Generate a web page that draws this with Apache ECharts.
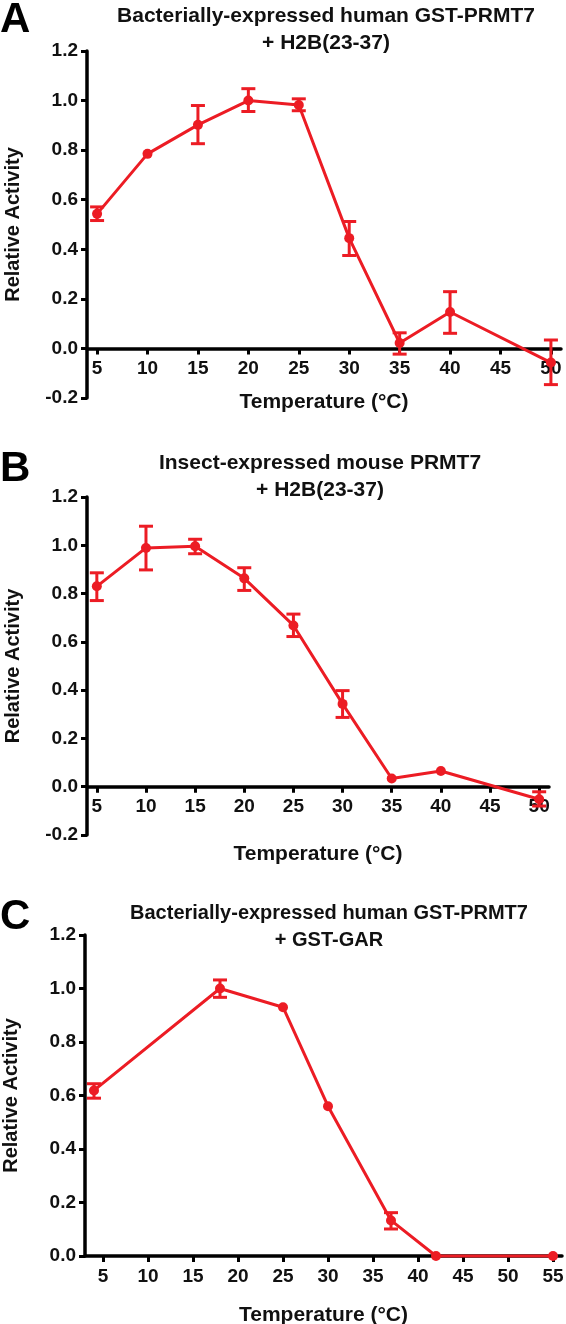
<!DOCTYPE html>
<html>
<head>
<meta charset="utf-8">
<script src="https://cdn.jsdelivr.net/npm/echarts@6/dist/echarts.min.js"></script>
<style>
html,body{margin:0;padding:0;background:#fff;}
#chart{width:566px;height:1324px;}
</style>
</head>
<body>
<div id="chart"></div>
<script>
// ---- Data ----
const tempA = [5, 10, 15, 20, 25, 30, 35, 40, 50];
const actA = [0.543, 0.785, 0.902, 1.0, 0.982, 0.445, 0.022, 0.147, -0.057];
const loA = [0.516, null, 0.826, 0.956, 0.959, 0.375, -0.023, 0.061, -0.146];
const hiA = [0.571, null, 0.980, 1.048, 1.007, 0.512, 0.063, 0.229, 0.034];

const tempB = [5, 10, 15, 20, 25, 30, 35, 40, 50];
const actB = [0.830, 0.989, 0.996, 0.863, 0.668, 0.343, 0.034, 0.065, -0.052];
const loB = [0.771, 0.898, 0.965, 0.813, 0.622, 0.287, null, null, -0.080];
const hiB = [0.886, 1.079, 1.025, 0.907, 0.715, 0.398, null, null, -0.021];

const tempC = [4, 18, 25, 30, 37, 42, 55];
const actC = [0.619, 1.0, 0.930, 0.560, 0.133, 0.0, 0.0];
const loC = [0.590, 0.967, null, null, 0.101, null, null];
const hiC = [0.644, 1.032, null, null, 0.162, null, null];

const xTicksAB = [5, 10, 15, 20, 25, 30, 35, 40, 45, 50];
const xTicksC = [5, 10, 15, 20, 25, 30, 35, 40, 45, 50, 55];

const titlesText = [
  'Bacterially-expressed human GST-PRMT7\n+ H2B(23-37)',
  'Insect-expressed mouse PRMT7\n+ H2B(23-37)',
  'Bacterially-expressed human GST-PRMT7\n+ GST-GAR'
];
const panelLetters = ['A', 'B', 'C'];
const xName = 'Temperature (°C)';
const yName = 'Relative Activity';

// ---- Styling / layout ----
const RED = '#ec1c24';
const FONT = '"Liberation Sans", Arial, Helvetica, sans-serif';
const Y_MAX = 1.2;
const grids = [
  { left: 87, top: 51, width: 474, height: 347, yMin: -0.2 },
  { left: 87, top: 497, width: 462, height: 338, yMin: -0.2 },
  { left: 85, top: 935, width: 477, height: 321, yMin: 0 }
];

function zip(xs, ys) { return xs.map((x, i) => [x, ys[i]]); }
function errData(xs, lo, hi) {
  const out = [];
  xs.forEach((x, i) => { if (lo[i] !== null && hi[i] !== null) out.push([x, lo[i], hi[i]]); });
  return out;
}
function renderErr(params, api) {
  const x = api.value(0), lo = api.value(1), hi = api.value(2);
  const p1 = api.coord([x, lo]), p2 = api.coord([x, hi]);
  const w = 7;
  const style = { stroke: RED, lineWidth: 3, fill: null };
  return {
    type: 'group',
    children: [
      { type: 'line', shape: { x1: p1[0], y1: p1[1], x2: p2[0], y2: p2[1] }, style: style },
      { type: 'line', shape: { x1: p1[0] - w, y1: p1[1], x2: p1[0] + w, y2: p1[1] }, style: style },
      { type: 'line', shape: { x1: p2[0] - w, y1: p2[1], x2: p2[0] + w, y2: p2[1] }, style: style }
    ]
  };
}

const axisLineStyle = { color: '#000', width: 3.5 };
const labelStyle = { fontSize: 19, fontWeight: 'bold', color: '#111', fontFamily: FONT };
const nameStyle = { fontSize: 21, fontWeight: 'bold', color: '#111', fontFamily: FONT };

function makeX(idx, min, max, ticks, gap) {
  const g = grids[idx];
  // place the x axis at y = 0 (axis line, ticks and labels together)
  const zeroOffset = -g.height * (0 - g.yMin) / (Y_MAX - g.yMin);
  return {
    type: 'value', gridIndex: idx, min: min, max: max,
    offset: zeroOffset,
    axisLine: { show: true, onZero: false, lineStyle: axisLineStyle },
    axisTick: { show: true, customValues: ticks, length: 6, lineStyle: { color: '#000', width: 3 } },
    axisLabel: Object.assign({ customValues: ticks, margin: 11 }, labelStyle),
    splitLine: { show: false },
    name: xName, nameLocation: 'middle', nameGap: gap,
    nameTextStyle: nameStyle
  };
}
function makeY(idx) {
  return {
    type: 'value', gridIndex: idx, min: grids[idx].yMin, max: Y_MAX, interval: 0.2,
    axisLine: { show: true, lineStyle: axisLineStyle },
    axisTick: { show: true, length: 6, lineStyle: { color: '#000', width: 3 } },
    axisLabel: Object.assign({ margin: 9, formatter: v => v.toFixed(1) }, labelStyle),
    splitLine: { show: false },
    name: yName, nameLocation: 'middle', nameGap: 64,
    nameTextStyle: { fontSize: 20, fontWeight: 'bold', color: '#111', fontFamily: FONT }
  };
}
function makeSeries(idx, xs, ys, lo, hi) {
  return [
    {
      type: 'line', xAxisIndex: idx, yAxisIndex: idx, data: zip(xs, ys),
      symbol: 'circle', symbolSize: 10, color: RED,
      lineStyle: { color: RED, width: 3 }, itemStyle: { color: RED },
      clip: false, z: 3
    },
    {
      type: 'custom', xAxisIndex: idx, yAxisIndex: idx, data: errData(xs, lo, hi),
      encode: { x: 0, y: [1, 2] }, renderItem: renderErr, z: 4
    }
  ];
}

const titleTops = [3, 450, 900];
const titleCenters = [326, 320, 329];
const titleSizes = [21, 21, 20];
const letterTops = [-1, 448, 896];

const titles = [];
titlesText.forEach((t, i) => {
  titles.push({
    text: t, left: titleCenters[i], top: titleTops[i], textAlign: 'center', padding: 0,
    textStyle: { fontSize: titleSizes[i], fontWeight: 'bold', color: '#111', lineHeight: 27, fontFamily: FONT }
  });
  titles.push({
    text: panelLetters[i], left: 0, top: letterTops[i], padding: 0,
    textStyle: { fontSize: 42, fontWeight: 'bold', color: '#000', fontFamily: FONT }
  });
});

const option = {
  animation: false,
  backgroundColor: '#fff',
  title: titles,
  grid: grids.map(g => ({
    left: g.left, top: g.top, width: g.width, height: g.height,
    containLabel: false, outerBoundsMode: 'none'
  })),
  xAxis: [
    makeX(0, 4, 51, xTicksAB, 43),
    makeX(1, 4, 51, xTicksAB, 57),
    makeX(2, 3, 56, xTicksC, 49)
  ],
  yAxis: [makeY(0), makeY(1), makeY(2)],
  series: [].concat(
    makeSeries(0, tempA, actA, loA, hiA),
    makeSeries(1, tempB, actB, loB, hiB),
    makeSeries(2, tempC, actC, loC, hiC)
  )
};

const chart = echarts.init(document.getElementById('chart'), null, { renderer: 'canvas' });
chart.setOption(option);
</script>
</body>
</html>
